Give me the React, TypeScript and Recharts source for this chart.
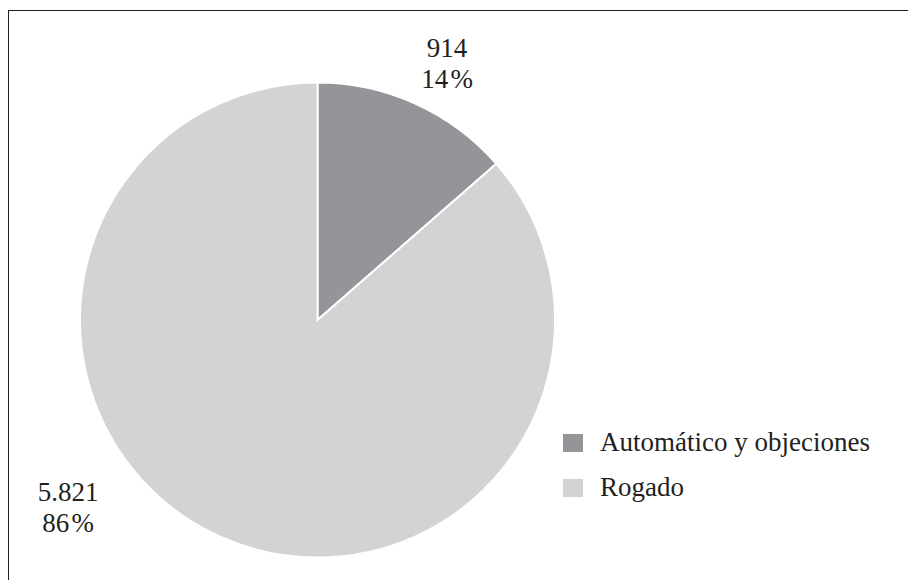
import { PieChart, Pie, Cell, Legend } from 'recharts';

const categories = ['Automático y objeciones', 'Rogado'];
const values = [914, 5821];
const colors = ['#939598', '#d1d3d4'];

const data = categories.map((name, i) => ({ name, value: values[i] }));

const FONT = '"Liberation Serif", "Times New Roman", serif';
const INK = '#231f20';

// hand-placed label anchors (centre x, first baseline y)
const labelPos = [
  { x: 447, y: 57 },
  { x: 68, y: 501 },
];

const fmt = (n: number) => String(n).replace(/\B(?=(\d{3})+(?!\d))/g, '.');

function SliceLabel(props: any) {
  const { index, value, percent } = props;
  const p = labelPos[index];
  return (
    <text x={p.x} y={p.y} textAnchor="middle" fontFamily={FONT} fontSize={27} fill={INK}>
      <tspan x={p.x} y={p.y}>{fmt(value)}</tspan>
      <tspan x={p.x} y={p.y + 31}>{Math.round(percent * 100) + '\u200A%'}</tspan>
    </text>
  );
}

function LegendList(props: any) {
  const { payload } = props;
  return (
    <div style={{ fontFamily: FONT, fontSize: 27, color: INK }}>
      {payload.map((entry: any, i: number) => (
        <div key={i} style={{ display: 'flex', alignItems: 'center', height: 45 }}>
          <span style={{ width: 20, height: 18, background: entry.color, display: 'inline-block', marginRight: 17 }} />
          <span>{entry.value}</span>
        </div>
      ))}
    </div>
  );
}

export default function App() {
  return (
    <div style={{ position: 'absolute', left: 0, top: 0, width: 908, height: 580, background: '#fff' }}>
      <div
        style={{
          position: 'absolute',
          left: 8,
          top: 10,
          width: 900,
          height: 570,
          borderTop: `1.5px solid ${INK}`,
          borderLeft: `1.5px solid ${INK}`,
          boxSizing: 'border-box',
        }}
      />
      <PieChart
        width={908}
        height={580}
        margin={{ top: 0, right: 0, bottom: 0, left: 0 }}
        style={{ position: 'absolute', left: 0, top: 0 }}
      >
        <Pie
          data={data}
          dataKey="value"
          nameKey="name"
          cx={317.5}
          cy={320}
          outerRadius={237.5}
          startAngle={90}
          endAngle={-270}
          stroke="#ffffff"
          strokeWidth={2}
          label={SliceLabel}
          labelLine={false}
          isAnimationActive={false}
        >
          {data.map((d, i) => (
            <Cell key={d.name} fill={colors[i]} />
          ))}
        </Pie>
        <Legend
          layout="vertical"
          content={LegendList}
          wrapperStyle={{ left: 563, top: 420, width: 340 }}
        />
      </PieChart>
    </div>
  );
}
